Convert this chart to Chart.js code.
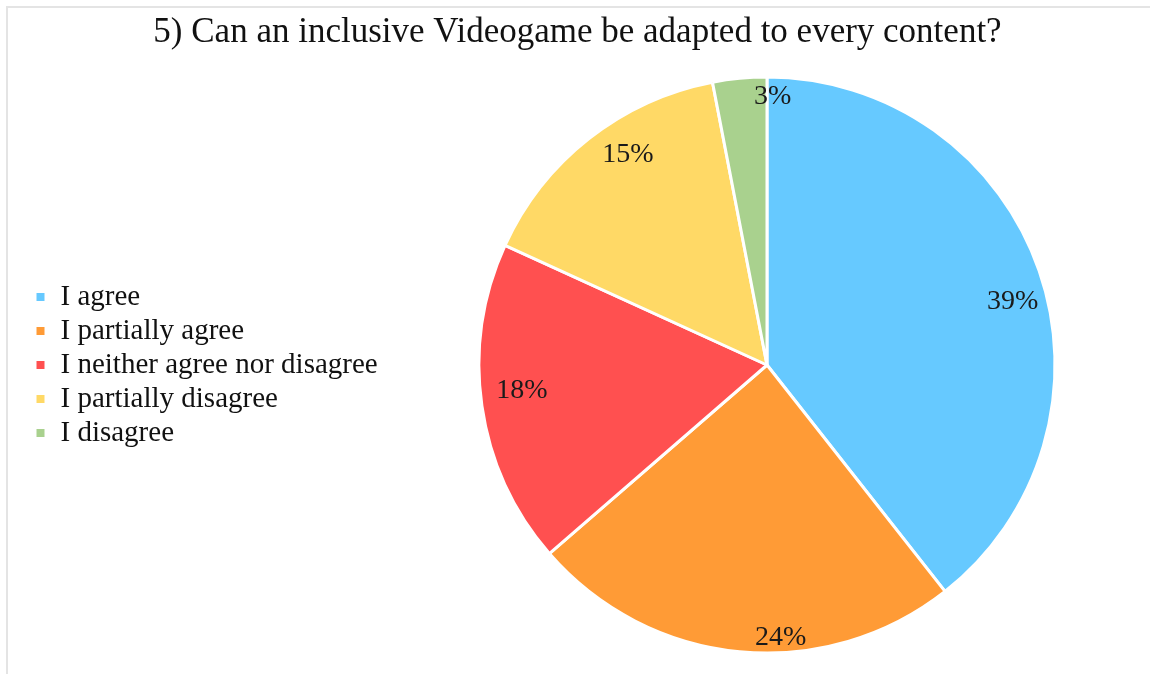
<!DOCTYPE html>
<html>
<head>
<meta charset="utf-8">
<script src="https://cdn.jsdelivr.net/npm/chart.js@4/dist/chart.umd.min.js"></script>
<style>
  html, body { margin: 0; padding: 0; background: #ffffff; }
  #wrap { width: 1150px; height: 674px; }
</style>
</head>
<body>
<div id="wrap"><canvas id="pie" width="1150" height="674"></canvas></div>
<script>
// Survey answers and their shares (percent)
const chartTitle = '5) Can an inclusive Videogame be adapted to every content?';
const answers = ['I agree', 'I partially agree', 'I neither agree nor disagree', 'I partially disagree', 'I disagree'];
const shares = [39, 24, 18, 15, 3];
const sliceColors = ['#66c9ff', '#ff9b36', '#ff5050', '#ffd966', '#a9d18e'];

const serif = '"Liberation Serif", "Times New Roman", serif';

// Thin grey frame along the top and left edges
const framePlugin = {
  id: 'frame',
  beforeDraw(chart) {
    const ctx = chart.ctx;
    ctx.save();
    ctx.strokeStyle = '#e4e4e4';
    ctx.lineWidth = 2;
    ctx.beginPath();
    ctx.moveTo(7, chart.height);
    ctx.lineTo(7, 7);
    ctx.lineTo(chart.width, 7);
    ctx.stroke();
    ctx.restore();
  }
};

// Give the side legend a fixed column width so the pie sits further right
const legendColumn = {
  id: 'legendColumn',
  beforeInit(chart, args, opts) {
    const legend = chart.legend;
    if (!legend) return;
    const baseFit = legend.fit;
    legend.fit = function () {
      baseFit.call(this);
      if (opts.width) this.width = opts.width;
    };
  }
};

// Percent labels placed just inside the outer edge of each slice
const insideEndLabels = {
  id: 'insideEndLabels',
  afterDatasetsDraw(chart, args, opts) {
    const ctx = chart.ctx;
    const meta = chart.getDatasetMeta(0);
    const values = chart.data.datasets[0].data;
    const nudge = opts.nudge || [];
    ctx.save();
    ctx.font = '28px ' + serif;
    ctx.fillStyle = '#1a1a1a';
    ctx.textAlign = 'center';
    ctx.textBaseline = 'middle';
    meta.data.forEach((arc, i) => {
      const text = values[i] + '%';
      const w = ctx.measureText(text).width;
      const h = 26;
      const mid = (arc.startAngle + arc.endAngle) / 2;
      const c = Math.cos(mid), s = Math.sin(mid);
      const reach = Math.abs(c) * w / 2 + Math.abs(s) * h / 2;
      const d = arc.outerRadius - reach - 6;
      const n = nudge[i] || { x: 0, y: 0 };
      ctx.fillText(text, arc.x + c * d + n.x, arc.y + s * d + n.y);
    });
    ctx.restore();
  }
};

new Chart(document.getElementById('pie'), {
  type: 'pie',
  data: {
    labels: answers,
    datasets: [{
      data: shares,
      backgroundColor: sliceColors,
      borderColor: '#ffffff',
      borderWidth: 3,
      radius: 288,
      hoverOffset: 0
    }]
  },
  options: {
    responsive: false,
    animation: false,
    layout: { padding: { left: 30, right: 25, top: 0, bottom: 2 } },
    plugins: {
      title: {
        display: true,
        text: chartTitle,
        color: '#111111',
        font: { family: serif, size: 35, weight: 'normal' },
        padding: { top: 12, bottom: 4 }
      },
      legend: {
        position: 'left',
        align: 'center',
        fullSize: false,
        labels: {
          color: '#111111',
          font: { family: serif, size: 29 },
          boxWidth: 11,
          boxHeight: 11,
          padding: 5
        }
      },
      legendColumn: { width: 379 },
      insideEndLabels: {
        nudge: [{ x: 6, y: 20 }, { x: 39, y: 7 }, { x: 7, y: -11 }, { x: 19, y: -9 }, { x: 31, y: -2 }]
      },
      tooltip: { enabled: false }
    }
  },
  plugins: [framePlugin, legendColumn, insideEndLabels]
});
</script>
</body>
</html>
